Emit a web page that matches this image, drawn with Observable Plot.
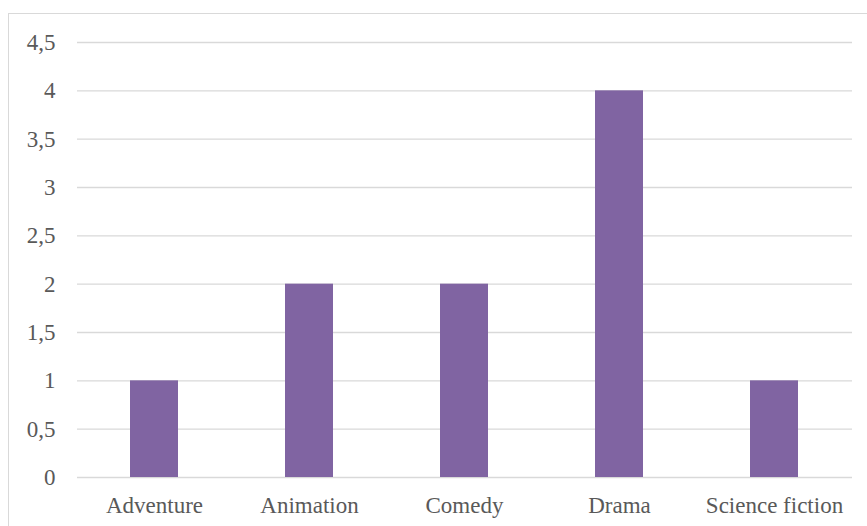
<!DOCTYPE html>
<html>
<head>
<meta charset="utf-8">
<script src="https://cdn.jsdelivr.net/npm/d3@7"></script>
<script src="https://cdn.jsdelivr.net/npm/@observablehq/plot@0.6"></script>
<style>
  html, body { margin: 0; padding: 0; background: #fff; }
  #wrap { position: relative; width: 867px; height: 526px; overflow: hidden; }
  #frame { position: absolute; left: 8px; top: 13px; width: 900px; height: 600px;
           border-left: 1px solid #d9d9d9; border-top: 1px solid #d9d9d9; pointer-events: none; }
  #chart { position: absolute; left: 0; top: 0; }
</style>
</head>
<body>
<div id="wrap"><div id="chart"></div><div id="frame"></div></div>
<script>
const genres = ["Adventure", "Animation", "Comedy", "Drama", "Science fiction"];
const counts = [1, 2, 2, 4, 1];
const yTicks = [0, 0.5, 1, 1.5, 2, 2.5, 3, 3.5, 4, 4.5];

const data = genres.map((g, i) => ({genre: g, count: counts[i]}));
const fmt = d => String(d).replace(".", ",");
const serif = "Liberation Serif, Times New Roman, serif";

const chart = Plot.plot({
  width: 867,
  height: 526,
  marginLeft: 77,
  marginRight: 15,
  marginTop: 42,
  marginBottom: 49,
  style: {background: "transparent", color: "#595959", fontFamily: serif, fontSize: "23px"},
  x: {domain: genres, paddingInner: 0.69, paddingOuter: 0.345, align: 0.5, label: null},
  y: {domain: [0, 4.5], ticks: yTicks, tickFormat: fmt, label: null},
  marks: [
    Plot.ruleY(yTicks, {stroke: "#d9d9d9", strokeWidth: 1.3, strokeOpacity: 1}),
    Plot.barY(data, {x: "genre", y: "count", fill: "#8064a2"}),
    Plot.axisX({tickSize: 0, tickPadding: 19, fill: "#595959", label: null, fontSize: 23, fontFamily: serif}),
    Plot.axisY({ticks: yTicks, tickFormat: fmt, tickSize: 0, tickPadding: 22, fill: "#595959", label: null, fontSize: 23, fontFamily: serif})
  ]
});
document.getElementById("chart").appendChild(chart);
</script>
</body>
</html>
